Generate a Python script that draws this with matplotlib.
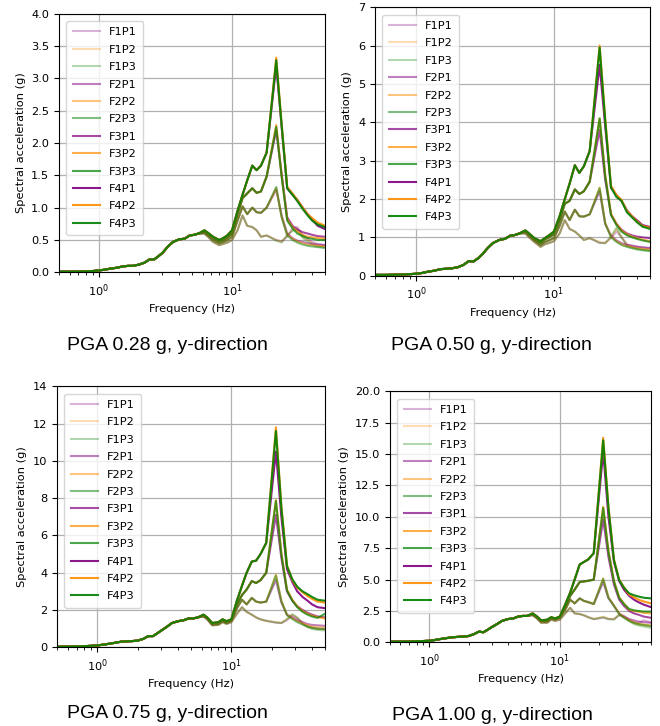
import matplotlib
matplotlib.use("Agg")
import matplotlib.pyplot as plt
from matplotlib.ticker import MultipleLocator, NullFormatter

# ---------------- data ----------------
freq_low = [0.5, 0.6, 0.7, 0.8, 0.9, 1.0, 1.1, 1.2, 1.35, 1.5, 1.65, 1.8, 2.0, 2.2, 2.4,
            2.6, 2.8, 3.0, 3.3, 3.6, 4.0, 4.4, 4.8, 5.2, 5.6]
freq_mid = [6.2, 6.6, 7.2, 8.0, 8.6, 9.2, 10.0, 11.0, 12.0, 13.0, 14.2, 15.3, 16.5, 18.2]
freq_up = [21.5, 23.6, 26.0, 28.5, 31.0, 34.0, 37.0, 40.0, 44.0, 50.0]

floors = ["F1", "F2", "F3", "F4"]
positions = ["P1", "P2", "P3"]

# PGA 0.28 g
low_028 = [0.01, 0.01, 0.012, 0.015, 0.02, 0.03, 0.04, 0.055, 0.07, 0.09, 0.1, 0.1, 0.12, 0.15,
           0.2, 0.2, 0.25, 0.3, 0.4, 0.47, 0.51, 0.52, 0.57, 0.58, 0.6]
mid_028 = [
    [0.6, 0.55, 0.47, 0.42, 0.44, 0.46, 0.5, 0.65, 0.88, 0.72, 0.7, 0.65, 0.55, 0.57],
    [0.61, 0.57, 0.5, 0.45, 0.47, 0.5, 0.55, 0.8, 1.02, 0.9, 1.0, 0.93, 0.92, 1.0],
    [0.63, 0.59, 0.53, 0.48, 0.5, 0.54, 0.6, 0.9, 1.15, 1.22, 1.3, 1.23, 1.25, 1.48],
    [0.65, 0.61, 0.55, 0.5, 0.53, 0.57, 0.65, 0.95, 1.2, 1.42, 1.65, 1.58, 1.65, 1.85],
]
up_028 = [
    [0.5, 0.48, 0.55, 0.68, 0.70, 0.57, 0.52, 0.47, 0.44, 0.42],
    [0.5, 0.47, 0.57, 0.65, 0.68, 0.55, 0.50, 0.45, 0.42, 0.40],
    [0.49, 0.46, 0.58, 0.64, 0.66, 0.53, 0.48, 0.43, 0.40, 0.38],
    [1.28, 0.88, 0.6, 0.53, 0.49, 0.47, 0.45, 0.44, 0.43, 0.42],
    [1.3, 0.86, 0.58, 0.52, 0.48, 0.45, 0.43, 0.42, 0.41, 0.40],
    [1.32, 0.85, 0.57, 0.5, 0.46, 0.43, 0.41, 0.4, 0.39, 0.38],
    [2.2, 1.52, 0.85, 0.72, 0.66, 0.62, 0.6, 0.58, 0.56, 0.55],
    [2.28, 1.5, 0.82, 0.7, 0.63, 0.58, 0.55, 0.54, 0.53, 0.52],
    [2.25, 1.48, 0.8, 0.68, 0.6, 0.56, 0.53, 0.52, 0.5, 0.5],
    [3.2, 2.25, 1.3, 1.2, 1.12, 1.0, 0.9, 0.82, 0.72, 0.67],
    [3.32, 2.3, 1.32, 1.22, 1.12, 1.0, 0.9, 0.84, 0.77, 0.72],
    [3.28, 2.28, 1.3, 1.2, 1.1, 0.98, 0.88, 0.8, 0.74, 0.7],
]

# PGA 0.50 g
low_050 = [0.02, 0.02, 0.025, 0.03, 0.04, 0.05, 0.07, 0.1, 0.13, 0.17, 0.18, 0.19, 0.22, 0.28,
           0.38, 0.37, 0.45, 0.55, 0.72, 0.85, 0.93, 0.96, 1.04, 1.06, 1.1]
mid_050 = [
    [1.1, 1.0, 0.88, 0.75, 0.82, 0.85, 0.9, 1.1, 1.45, 1.22, 1.15, 1.05, 0.93, 0.98],
    [1.13, 1.04, 0.92, 0.8, 0.88, 0.92, 0.98, 1.3, 1.67, 1.45, 1.72, 1.55, 1.54, 1.6],
    [1.16, 1.08, 0.95, 0.85, 0.95, 1.0, 1.08, 1.45, 1.88, 1.95, 2.25, 2.13, 2.2, 2.45],
    [1.18, 1.1, 0.98, 0.9, 0.98, 1.05, 1.15, 1.55, 2.0, 2.4, 2.88, 2.68, 2.85, 3.25],
]
up_050 = [
    [0.85, 0.86, 0.98, 1.15, 1.0, 0.82, 0.78, 0.75, 0.73, 0.72],
    [0.88, 0.85, 1.0, 1.22, 1.02, 0.8, 0.75, 0.72, 0.7, 0.67],
    [0.86, 0.84, 1.02, 1.25, 1.0, 0.78, 0.72, 0.68, 0.66, 0.64],
    [2.2, 1.35, 1.05, 0.92, 0.85, 0.8, 0.78, 0.76, 0.74, 0.72],
    [2.3, 1.38, 1.02, 0.9, 0.82, 0.77, 0.75, 0.72, 0.7, 0.68],
    [2.28, 1.36, 1.0, 0.88, 0.8, 0.75, 0.72, 0.7, 0.67, 0.65],
    [3.8, 2.5, 1.6, 1.35, 1.2, 1.1, 1.05, 1.02, 1.0, 0.98],
    [4.1, 2.65, 1.62, 1.35, 1.18, 1.08, 1.02, 0.98, 0.94, 0.9],
    [4.1, 2.6, 1.58, 1.32, 1.15, 1.05, 1.0, 0.96, 0.92, 0.88],
    [5.5, 3.9, 2.3, 2.1, 1.95, 1.7, 1.55, 1.45, 1.32, 1.27],
    [6.0, 4.1, 2.35, 2.1, 1.98, 1.68, 1.55, 1.42, 1.3, 1.25],
    [5.95, 4.05, 2.3, 2.05, 1.95, 1.65, 1.52, 1.4, 1.28, 1.22],
]

# PGA 0.75 g
low_075 = [0.03, 0.04, 0.05, 0.06, 0.08, 0.1, 0.14, 0.18, 0.24, 0.3, 0.32, 0.33, 0.36, 0.45,
           0.6, 0.6, 0.75, 0.9, 1.1, 1.3, 1.4, 1.45, 1.55, 1.55, 1.6]
mid_075 = [
    [1.65, 1.5, 1.18, 1.2, 1.35, 1.25, 1.35, 1.8, 2.15, 1.9, 1.75, 1.6, 1.5, 1.42],
    [1.68, 1.53, 1.22, 1.25, 1.4, 1.3, 1.42, 2.1, 2.55, 2.3, 2.65, 2.45, 2.4, 2.45],
    [1.72, 1.57, 1.27, 1.32, 1.45, 1.35, 1.45, 2.3, 2.8, 3.1, 3.55, 3.45, 3.6, 4.0],
    [1.75, 1.6, 1.3, 1.35, 1.5, 1.4, 1.5, 2.5, 3.3, 4.0, 4.6, 4.65, 5.0, 5.6],
]
up_075 = [
    [1.32, 1.3, 1.45, 1.7, 1.55, 1.25, 1.12, 1.05, 1.0, 0.98],
    [1.35, 1.32, 1.5, 1.75, 1.6, 1.3, 1.1, 1.02, 0.98, 0.95],
    [1.33, 1.3, 1.52, 1.78, 1.6, 1.28, 1.08, 0.98, 0.93, 0.9],
    [3.6, 2.4, 1.75, 1.6, 1.45, 1.35, 1.25, 1.2, 1.18, 1.15],
    [3.9, 2.5, 1.75, 1.55, 1.4, 1.28, 1.18, 1.12, 1.08, 1.05],
    [3.85, 2.48, 1.72, 1.52, 1.35, 1.22, 1.12, 1.05, 1.0, 0.98],
    [7.1, 4.8, 3.0, 2.5, 2.2, 2.0, 1.85, 1.75, 1.65, 1.6],
    [7.9, 5.1, 3.1, 2.55, 2.2, 1.95, 1.8, 1.7, 1.62, 1.55],
    [7.85, 5.0, 3.05, 2.5, 2.15, 1.9, 1.75, 1.65, 1.58, 1.8],
    [10.5, 7.0, 4.2, 3.5, 3.0, 2.7, 2.5, 2.3, 2.15, 2.1],
    [11.8, 7.6, 4.4, 3.6, 3.2, 2.95, 2.75, 2.6, 2.45, 2.4],
    [11.6, 7.5, 4.35, 3.65, 3.25, 3.0, 2.85, 2.7, 2.55, 2.5],
]

# PGA 1.00 g
low_100 = [0.05, 0.05, 0.06, 0.08, 0.1, 0.12, 0.18, 0.25, 0.33, 0.4, 0.43, 0.45, 0.5, 0.65,
           0.85, 0.8, 1.0, 1.2, 1.45, 1.7, 1.85, 1.9, 2.05, 2.1, 2.1]
mid_100 = [
    [2.15, 1.95, 1.55, 1.55, 1.8, 1.7, 1.8, 2.3, 2.75, 2.3, 2.25, 2.15, 2.0, 1.85],
    [2.2, 2.0, 1.65, 1.65, 1.9, 1.8, 1.95, 2.6, 3.4, 3.1, 3.5, 3.3, 3.2, 3.05],
    [2.25, 2.05, 1.72, 1.72, 1.95, 1.85, 2.0, 2.8, 3.7, 4.2, 4.8, 4.85, 4.9, 5.0],
    [2.3, 2.1, 1.75, 1.8, 2.0, 1.9, 2.05, 3.0, 3.95, 5.0, 6.2, 6.4, 6.6, 7.1],
]
up_100 = [
    [1.95, 1.85, 1.85, 2.15, 2.1, 1.8, 1.6, 1.55, 1.75, 1.6],
    [2.05, 1.9, 1.85, 2.2, 2.05, 1.75, 1.5, 1.4, 1.35, 1.25],
    [2.0, 1.85, 1.8, 2.2, 2.0, 1.7, 1.45, 1.35, 1.25, 1.15],
    [4.8, 3.5, 2.9, 2.3, 2.05, 1.85, 1.75, 1.65, 1.6, 1.55],
    [5.1, 3.6, 2.95, 2.3, 2.0, 1.75, 1.6, 1.5, 1.42, 1.35],
    [5.05, 3.55, 2.9, 2.25, 1.95, 1.7, 1.55, 1.45, 1.38, 1.3],
    [9.8, 6.8, 4.6, 3.4, 2.9, 2.5, 2.3, 2.2, 2.05, 1.95],
    [10.8, 7.3, 4.9, 3.6, 3.1, 2.6, 2.5, 2.45, 2.35, 2.3],
    [10.7, 7.2, 4.85, 3.55, 3.05, 2.65, 2.55, 2.5, 2.45, 2.45],
    [15.2, 10.0, 6.4, 4.9, 4.2, 3.7, 3.4, 3.2, 3.0, 2.8],
    [16.3, 10.8, 6.6, 5.0, 4.4, 3.8, 3.6, 3.4, 3.25, 3.1],
    [16.1, 10.7, 6.55, 4.95, 4.35, 3.9, 3.75, 3.65, 3.55, 3.5],
]

captions = ["PGA 0.28 g, y-direction", "PGA 0.50 g, y-direction",
            "PGA 0.75 g, y-direction", "PGA 1.00 g, y-direction"]
ymax = [4.0, 7.0, 14.0, 20.0]
ystep = [0.5, 1.0, 2.0, 2.5]

# ---------------- style ----------------
pos_colors = ["purple", "darkorange", "green"]
floor_alpha = [0.3, 0.5, 0.7, 0.9]

axes_rects = [
    [0.0894, 0.6249, 0.4030, 0.3562],
    [0.5682, 0.6203, 0.4167, 0.3697],
    [0.0864, 0.1084, 0.4061, 0.3595],
    [0.5909, 0.1153, 0.3955, 0.3457],
]
caption_xy = [(167, 345), (491, 345), (167, 713), (492, 715)]

W, H = 660, 726
fig = plt.figure(figsize=(W / 100, H / 100), dpi=100)

freqs = freq_low + freq_mid + freq_up
datasets = [(low_028, mid_028, up_028), (low_050, mid_050, up_050),
            (low_075, mid_075, up_075), (low_100, mid_100, up_100)]

FS = 8.2
for k, (low, mid, up) in enumerate(datasets):
    ax = fig.add_axes(axes_rects[k])
    for fi, fl in enumerate(floors):
        for pi, ps in enumerate(positions):
            vals = low + mid[fi] + up[fi * 3 + pi]
            ax.plot(freqs, vals, color=pos_colors[pi], alpha=floor_alpha[fi],
                    lw=1.5, label=fl + ps)
    ax.set_xscale("log")
    ax.set_xlim(0.5, 50)
    ax.set_ylim(0, ymax[k])
    ax.yaxis.set_major_locator(MultipleLocator(ystep[k]))
    ax.xaxis.set_minor_formatter(NullFormatter())
    ax.grid(True, which="major", color="#b0b0b0", lw=0.9)
    ax.tick_params(labelsize=FS, length=3.5, width=0.8)
    ax.tick_params(which="minor", length=2, width=0.6)
    ax.set_xlabel("Frequency (Hz)", fontsize=FS)
    ax.set_ylabel("Spectral acceleration (g)", fontsize=FS)
    ax.legend(loc="upper left", fontsize=FS, handlelength=2.4, framealpha=0.8,
              labelspacing=0.65, borderpad=0.55, borderaxespad=0.65)
    cx, cy = caption_xy[k]
    fig.text(cx / W, 1 - cy / H, captions[k], ha="center", va="center",
             fontsize=14, family="Liberation Sans")

fig.savefig("out.png", dpi=100)
